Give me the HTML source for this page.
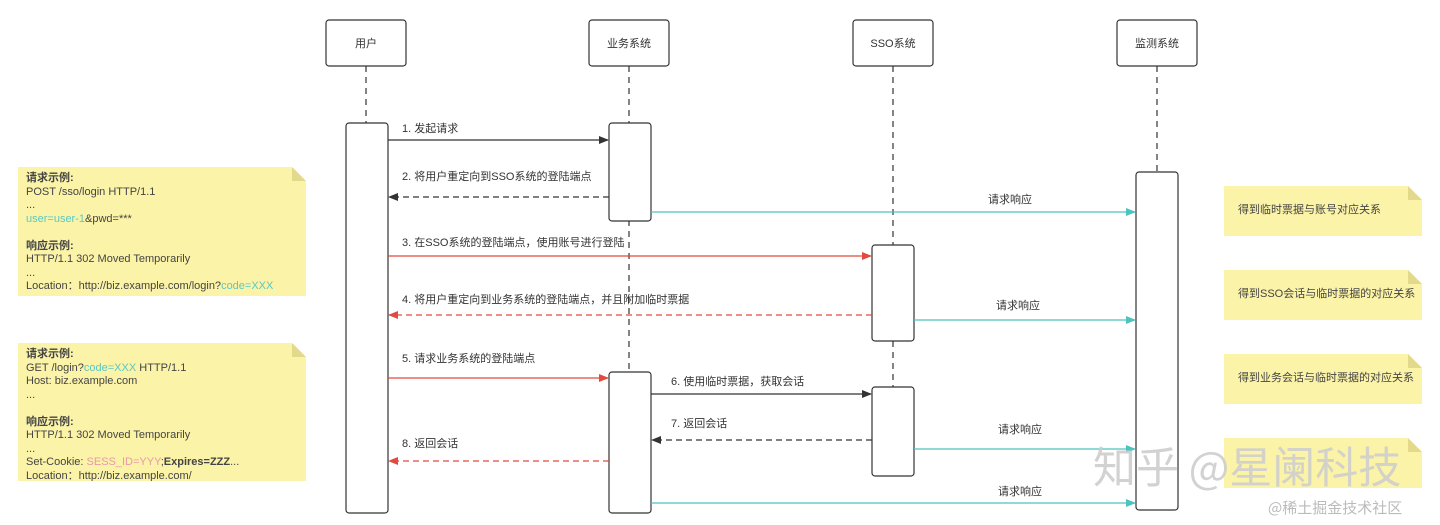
<!DOCTYPE html>
<html><head><meta charset="utf-8"><style>
body{margin:0;width:1440px;height:525px;background:#fff;overflow:hidden;position:relative;font-family:"Liberation Sans","Noto Sans CJK SC",sans-serif;color:#333}
.note{position:absolute;background:#fbf3a8;font-size:11px;line-height:13.5px;color:#444;clip-path:polygon(0 0,calc(100% - 14px) 0,100% 14px,100% 100%,0 100%)}
.fold{position:absolute;width:14px;height:14px;background:#e2d98a;clip-path:polygon(0 0,100% 100%,0 100%)}
.t{color:#5bc8c0}.p{color:#e89aa8}
.lbl{position:absolute;font-size:11px;color:#333;white-space:nowrap}
.rn{display:flex;align-items:center;padding-left:14px;box-sizing:border-box;font-size:11px}
</style></head><body>
<svg width="1440" height="525" style="position:absolute;left:0;top:0">
<defs>
<marker id="ab" markerWidth="10" markerHeight="8" refX="9" refY="4" orient="auto" markerUnits="userSpaceOnUse"><path d="M0,0L10,4L0,8z" fill="#333"/></marker>
<marker id="ar" markerWidth="10" markerHeight="8" refX="9" refY="4" orient="auto" markerUnits="userSpaceOnUse"><path d="M0,0L10,4L0,8z" fill="#e04a3f"/></marker>
<marker id="at" markerWidth="10" markerHeight="8" refX="9" refY="4" orient="auto" markerUnits="userSpaceOnUse"><path d="M0,0L10,4L0,8z" fill="#4cc4bd"/></marker>
</defs>
<g stroke="#333" stroke-dasharray="6,5" stroke-width="1.2">
<line x1="366" y1="66" x2="366" y2="123"/><line x1="629" y1="66" x2="629" y2="372"/>
<line x1="893" y1="66" x2="893" y2="387"/><line x1="1157" y1="66" x2="1157" y2="172"/>
</g>
<g fill="#fff" stroke="#333" stroke-width="1.2">
<rect x="326" y="20" width="80" height="46" rx="3"/><rect x="589" y="20" width="80" height="46" rx="3"/>
<rect x="853" y="20" width="80" height="46" rx="3"/><rect x="1117" y="20" width="80" height="46" rx="3"/>
<rect x="346" y="123" width="42" height="390" rx="3"/>
<rect x="609" y="123" width="42" height="98" rx="3"/><rect x="609" y="372" width="42" height="141" rx="3"/>
<rect x="872" y="245" width="42" height="96" rx="3"/><rect x="872" y="387" width="42" height="89" rx="3"/>
<rect x="1136" y="172" width="42" height="338" rx="3"/>
</g>
<g font-size="11" fill="#333" text-anchor="middle" font-family="Liberation Sans,Noto Sans CJK SC,sans-serif">
<text x="366" y="47">用户</text><text x="629" y="47">业务系统</text><text x="893" y="47">SSO系统</text><text x="1157" y="47">监测系统</text>
</g>
<g stroke-width="1.3" fill="none">
<line x1="388" y1="140" x2="608" y2="140" stroke="#333" marker-end="url(#ab)"/>
<line x1="609" y1="197" x2="389" y2="197" stroke="#333" stroke-dasharray="6,4" marker-end="url(#ab)"/>
<line x1="651" y1="212" x2="1135" y2="212" stroke="#4cc4bd" marker-end="url(#at)"/>
<line x1="388" y1="256" x2="871" y2="256" stroke="#e04a3f" marker-end="url(#ar)"/>
<line x1="872" y1="315" x2="389" y2="315" stroke="#e04a3f" stroke-dasharray="6,4" marker-end="url(#ar)"/>
<line x1="914" y1="320" x2="1135" y2="320" stroke="#4cc4bd" marker-end="url(#at)"/>
<line x1="388" y1="378" x2="608" y2="378" stroke="#e04a3f" marker-end="url(#ar)"/>
<line x1="651" y1="394" x2="871" y2="394" stroke="#333" marker-end="url(#ab)"/>
<line x1="872" y1="440" x2="652" y2="440" stroke="#333" stroke-dasharray="6,4" marker-end="url(#ab)"/>
<line x1="914" y1="449" x2="1135" y2="449" stroke="#4cc4bd" marker-end="url(#at)"/>
<line x1="609" y1="461" x2="389" y2="461" stroke="#e04a3f" stroke-dasharray="6,4" marker-end="url(#ar)"/>
<line x1="651" y1="503" x2="1135" y2="503" stroke="#4cc4bd" marker-end="url(#at)"/>
</g>
</svg>
<div class="lbl" style="left:402px;top:120px">1. 发起请求</div>
<div class="lbl" style="left:402px;top:168px">2. 将用户重定向到SSO系统的登陆端点</div>
<div class="lbl" style="left:988px;top:191px">请求响应</div>
<div class="lbl" style="left:402px;top:234px">3. 在SSO系统的登陆端点，使用账号进行登陆</div>
<div class="lbl" style="left:402px;top:291px">4. 将用户重定向到业务系统的登陆端点，并且附加临时票据</div>
<div class="lbl" style="left:996px;top:297px">请求响应</div>
<div class="lbl" style="left:402px;top:350px">5. 请求业务系统的登陆端点</div>
<div class="lbl" style="left:671px;top:373px">6. 使用临时票据，获取会话</div>
<div class="lbl" style="left:671px;top:415px">7. 返回会话</div>
<div class="lbl" style="left:998px;top:421px">请求响应</div>
<div class="lbl" style="left:402px;top:435px">8. 返回会话</div>
<div class="lbl" style="left:998px;top:483px">请求响应</div>

<div class="note" style="left:18px;top:167px;width:288px;height:129px;padding:5px 0 0 8px;box-sizing:border-box">
<b>请求示例:</b><br>POST /sso/login HTTP/1.1<br>...<br><span class="t">user=user-1</span>&amp;pwd=***<br><br><b>响应示例:</b><br>HTTP/1.1 302 Moved Temporarily<br>...<br>Location：http://biz.example.com/login?<span class="t">code=XXX</span></div>
<div class="fold" style="left:292px;top:167px"></div>
<div class="note" style="left:18px;top:343px;width:288px;height:138px;padding:5px 0 0 8px;box-sizing:border-box">
<b>请求示例:</b><br>GET /login?<span class="t">code=XXX</span> HTTP/1.1<br>Host: biz.example.com<br>...<br><br><b>响应示例:</b><br>HTTP/1.1 302 Moved Temporarily<br>...<br>Set-Cookie: <span class="p">SESS_ID=YYY</span>;<b>Expires=ZZZ</b>...<br>Location：http://biz.example.com/</div>
<div class="fold" style="left:292px;top:343px"></div>

<div class="note rn" style="left:1224px;top:186px;width:198px;height:50px">得到临时票据与账号对应关系</div><div class="fold" style="left:1408px;top:186px"></div>
<div class="note rn" style="left:1224px;top:270px;width:198px;height:50px">得到SSO会话与临时票据的对应关系</div><div class="fold" style="left:1408px;top:270px"></div>
<div class="note rn" style="left:1224px;top:354px;width:198px;height:50px">得到业务会话与临时票据的对应关系</div><div class="fold" style="left:1408px;top:354px"></div>
<div class="note rn" style="left:1224px;top:438px;width:198px;height:50px"></div><div class="fold" style="left:1408px;top:438px"></div>

<div style="position:absolute;left:1093px;top:438px;font-size:43px;color:rgba(205,205,205,0.9);font-family:'Noto Sans CJK SC',sans-serif;white-space:nowrap;line-height:54px">知乎 @星阑科技</div>
<div style="position:absolute;left:1268px;top:497px;font-size:15px;color:#bbb;font-family:'Noto Sans CJK SC',sans-serif;white-space:nowrap">@稀土掘金技术社区</div>
</body></html>
